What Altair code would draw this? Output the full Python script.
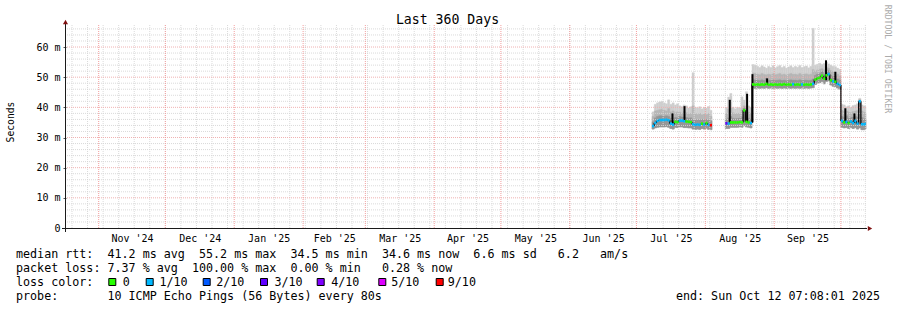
import altair as alt
import pandas as pd

MONO = "DejaVu Sans Mono"

# ---------------- time window / scales ----------------
RANGE_START = "2024-10-17 07:08:01"
RANGE_END = "2025-10-12 07:08:01"
Y_MAX_MS = 67.3

LOSS_LABELS = ["0", "1/10", "2/10", "3/10", "4/10", "5/10", "9/10"]
LOSS_COLORS = ["#26ff00", "#00b8ff", "#0059ff", "#5e00ff", "#7e00ff", "#dd00ff", "#ff0000"]

# ---------------- data (one value per day, ms) ----------------
S1_START = "2025-07-08"
S1_MED = [33.8, 34.8, 35.5, 35.8, 35.8, 35.8, 35.9, 35.7, 34.6, 34.3, 35.2, 35.1, 35.6, 35.6,
          35.4, 35.3, 35.2, 35.1, 34.4, 34.2, 34.3, 34.2, 34.6, 34.3, 34.8, 34.2, 34.1]
S1_LOSS = [1, 1, 1, 1, 1, 1, 1, 1, 1, 1, 0, 0, 1, 1, 1, 0, 0, 0, 1, 1, 1, 1, 0, 1, 0, 1, 6]
S1_HI = [38.5, 41.0, 41.5, 41.8, 42.0, 41.5, 41.2, 42.5, 41.0, 41.5, 40.8, 41.2, 40.5, 40.2,
         40.8, 40.5, 39.8, 40.2, 51.5, 40.0, 39.8, 40.2, 39.5, 40.0, 39.8, 40.3, 39.0]
S1_MID = [37.0, 38.8, 39.0, 39.2, 39.4, 39.0, 38.8, 39.6, 38.5, 38.8, 38.2, 38.5, 38.4, 38.0,
          38.6, 38.2, 37.8, 38.0, 40.5, 38.0, 37.6, 38.0, 37.5, 37.8, 37.6, 38.0, 37.0]
S1_DARK = [35.2, 36.5, 37.0, 37.2, 37.2, 37.0, 37.2, 37.0, 36.4, 36.2, 36.6, 36.5, 37.0, 36.8,
           36.8, 36.6, 36.4, 36.5, 36.0, 35.8, 35.9, 35.8, 36.0, 35.8, 36.0, 35.8, 35.5]
S1_LO = [32.8, 33.2, 33.4, 33.5, 33.5, 33.5, 33.6, 33.4, 33.0, 32.8, 33.4, 33.3, 33.5, 33.5,
         33.3, 33.3, 33.2, 33.2, 32.8, 32.7, 32.8, 32.7, 33.0, 32.8, 33.1, 32.7, 32.6]

S2_START = "2025-08-10"
S2_MED = [34.7, 34.6, 35.0, 35.0, 35.0, 35.0, 35.1, 35.0, 39.0, 35.2, 35.0, 34.8]
S2_LOSS = [3, 1, 0, 0, 0, 0, 0, 0, 0, 0, 0, 1]
S2_HI = [40.0, 43.4, 44.6, 40.0, 39.5, 40.0, 39.8, 43.5, 42.4, 45.2, 40.5, 40.0]
S2_MID = [38.0, 39.5, 40.0, 38.2, 37.8, 38.0, 38.0, 39.5, 40.5, 40.0, 38.4, 38.0]
S2_DARK = [36.0, 36.5, 37.0, 36.4, 36.2, 36.3, 36.4, 36.8, 39.8, 37.2, 36.4, 36.0]
S2_LO = [33.0, 33.0, 33.4, 33.4, 33.4, 33.4, 33.5, 33.4, 34.0, 33.5, 33.4, 33.2]

S3_START = "2025-08-22"
S3_MED = [47.6, 47.5, 47.6, 47.5, 47.6, 47.5, 47.8, 47.5, 47.6, 47.5,
          47.6, 47.5, 47.6, 47.5, 47.7, 47.5, 47.6, 47.5, 47.7, 47.5,
          47.6, 47.5, 47.6, 47.5, 47.6, 47.5, 47.6, 47.8, 49.2, 49.6,
          49.8, 50.5, 49.5, 50.6, 51.0, 49.0, 48.6, 48.5, 47.8, 47.4]
S3_LOSS = [0, 0, 0, 0, 0, 0, 0, 0, 0, 0, 0, 0, 0, 0, 0, 0, 0, 0, 1, 0,
           0, 0, 1, 0, 0, 0, 0, 1, 0, 0, 0, 0, 0, 0, 1, 0, 1, 0, 1, 1]
S3_HI = [54.2, 54.0, 53.6, 53.2, 53.8, 53.4, 53.0, 53.6, 53.2, 53.8,
         53.1, 53.5, 53.9, 53.2, 53.6, 53.0, 53.4, 53.8, 53.2, 53.6,
         53.3, 53.9, 53.2, 53.5, 53.7, 53.1, 53.6, 66.2, 54.0, 54.3,
         54.6, 54.2, 54.5, 55.0, 54.4, 54.0, 53.6, 53.5, 53.0, 52.6]
S3_MID = [51.4, 51.2, 51.0, 50.8, 51.2, 50.9, 50.8, 51.0, 50.8, 51.2,
          50.8, 51.0, 51.2, 50.8, 51.0, 50.7, 51.0, 51.2, 50.9, 51.0,
          50.8, 51.2, 50.8, 51.0, 51.1, 50.8, 51.0, 52.5, 52.0, 52.4,
          52.6, 52.8, 52.4, 53.2, 53.0, 52.2, 51.8, 51.6, 51.0, 50.4]
S3_DARK = [49.2, 49.0, 49.0, 48.9, 49.1, 48.9, 49.6, 49.0, 48.9, 49.1,
           48.9, 49.0, 49.1, 48.9, 49.0, 48.8, 49.0, 49.1, 49.0, 49.0,
           48.9, 49.1, 48.9, 49.0, 49.0, 48.9, 49.0, 49.4, 50.6, 51.0,
           51.2, 51.8, 51.0, 52.4, 52.2, 50.6, 50.2, 50.4, 49.4, 49.0]
S3_LO = [46.4, 46.3, 46.4, 46.3, 46.4, 46.3, 46.5, 46.3, 46.4, 46.3,
         46.4, 46.3, 46.4, 46.3, 46.4, 46.3, 46.4, 46.3, 46.4, 46.3,
         46.4, 46.3, 46.4, 46.3, 46.4, 46.3, 46.4, 46.5, 47.6, 48.0,
         48.2, 48.6, 47.8, 48.6, 48.8, 47.4, 47.0, 46.9, 46.4, 46.0]

S4_START = "2025-10-01"
S4_MED = [35.5, 35.0, 35.2, 34.8, 35.3, 34.8, 35.5, 34.6, 42.0, 34.4, 34.4, 34.6]
S4_LOSS = [1, 0, 1, 0, 1, 1, 1, 1, 1, 1, 1, 1]
S4_HI = [41.0, 40.8, 40.2, 40.5, 40.0, 40.6, 40.8, 41.2, 43.0, 40.8, 40.5, 40.2]
S4_MID = [39.0, 38.6, 38.8, 38.5, 38.2, 38.6, 38.8, 39.0, 42.6, 38.8, 38.4, 38.0]
S4_DARK = [37.0, 36.6, 37.2, 36.4, 36.6, 36.8, 37.0, 36.8, 42.2, 36.6, 36.2, 36.0]
S4_LO = [33.4, 33.2, 33.3, 33.0, 33.3, 33.0, 33.3, 32.8, 33.2, 32.6, 32.6, 32.8]

# dense single-sample smoke columns (drawn black)
SPIKE_T = ["2025-07-17 05:00", "2025-07-22 15:00", "2025-08-12 00:00", "2025-08-19 19:00",
           "2025-08-22 05:00", "2025-08-28 19:00", "2025-09-24 07:00", "2025-09-28 12:00",
           "2025-10-03 00:00", "2025-10-07 02:00"]
SPIKE_LO = [34.3, 35.3, 35.0, 35.2, 35.0, 47.5, 49.0, 48.0, 35.0, 35.0]
SPIKE_HI = [38.0, 40.4, 42.5, 44.5, 51.0, 49.6, 55.6, 51.8, 39.7, 38.0]

# grid / tick definitions
WEEK_LINES = pd.date_range("2024-10-20", "2025-10-12", freq="7D")
MONTH_LINES = pd.date_range("2024-11-01", "2025-10-01", freq="MS")
Y_MINOR = [v for v in range(2, 67, 2) if v % 10 != 0]
Y_MAJOR = [10, 20, 30, 40, 50, 60]
Y_LABELS = [0, 10, 20, 30, 40, 50, 60]

SEGMENTS = [
    (S1_START, S1_MED, S1_LOSS, S1_HI, S1_MID, S1_DARK, S1_LO),
    (S2_START, S2_MED, S2_LOSS, S2_HI, S2_MID, S2_DARK, S2_LO),
    (S3_START, S3_MED, S3_LOSS, S3_HI, S3_MID, S3_DARK, S3_LO),
    (S4_START, S4_MED, S4_LOSS, S4_HI, S4_MID, S4_DARK, S4_LO),
]

FMT = "%Y-%m-%dT%H:%M:%S"


def dt(ts):
    ts = pd.Timestamp(ts)
    return alt.DateTime(year=ts.year, month=ts.month, date=ts.day,
                        hours=ts.hour, minutes=ts.minute, seconds=ts.second)


end_ts = pd.Timestamp(RANGE_END)
rows = []
for start, med, loss, hi, mid, dark, lo in SEGMENTS:
    days = pd.date_range(start, periods=len(med), freq="D")
    for k, d in enumerate(days):
        e = min(d + pd.Timedelta(days=1), end_ts)
        rows.append(dict(t=d, t2=e, med=med[k], loss=LOSS_LABELS[loss[k]],
                         hi=hi[k], mid=mid[k], dark=dark[k], lo=lo[k]))
df = pd.DataFrame(rows).sort_values("t").reset_index(drop=True)
df["prev"] = df["med"].shift()
contig = df["t2"].shift() == df["t"]
conn = df[contig].copy()
for frame in (df, conn):
    frame["t"] = frame["t"].dt.strftime(FMT)
    frame["t2"] = frame["t2"].dt.strftime(FMT)

spikes = pd.DataFrame({"t": [pd.Timestamp(s).strftime(FMT) for s in SPIKE_T],
                       "lo": SPIKE_LO, "hi": SPIKE_HI})
weeks = pd.DataFrame({"t": WEEK_LINES.strftime(FMT)})
months = pd.DataFrame({"t": MONTH_LINES.strftime(FMT)})

# month labels centred between month boundaries
bounds = list(MONTH_LINES)
mid_months = [bounds[i] + (bounds[i + 1] - bounds[i]) / 2 for i in range(len(bounds) - 1)]

xs = alt.Scale(domain=[dt(RANGE_START), dt(RANGE_END)])
ys = alt.Scale(domain=[0, Y_MAX_MS], nice=False)

xaxis = alt.Axis(values=[dt(m) for m in mid_months], format="%b '%y", title=None,
                 grid=False, domain=False, ticks=False, labelFont=MONO, labelFontSize=10,
                 labelColor="#000000", labelBaseline="alphabetic", labelPadding=13,
                 labelFlush=False, labelOverlap=False, labelAlign="center")
yaxis = alt.Axis(values=Y_LABELS, labelExpr="datum.value == 0 ? '0' : datum.value + ' m'",
                 title=None, grid=False, domain=False, ticks=True, tickSize=3,
                 tickColor="#555555", labelFont=MONO, labelFontSize=10, labelColor="#000000",
                 labelPadding=3)


def X(f):
    return alt.X(f, type="temporal", scale=xs, axis=xaxis)


def Y(f):
    return alt.Y(f, type="quantitative", scale=ys, axis=yaxis)


base = alt.Chart(df)
layers = []

# smoke
for top, col in (("hi", "#cecece"), ("mid", "#b6b6b6"), ("dark", "#959595")):
    layers.append(base.mark_rect(color=col, stroke=col, strokeWidth=0.4).encode(
        x=X("t"), x2=alt.X2("t2"), y=Y(top), y2=alt.Y2("lo")))

# grid
MINOR = "#d6d6d6"
MAJOR_H = "#eeaaaa"
MAJOR_V = "#f29a9a"
layers.append(alt.Chart(pd.DataFrame({"v": Y_MINOR})).mark_rule(
    stroke=MINOR, strokeDash=[1, 1], strokeWidth=1, opacity=0.9).encode(y=Y("v")))
layers.append(alt.Chart(weeks).mark_rule(
    stroke=MINOR, strokeDash=[1, 1], strokeWidth=1, opacity=0.9).encode(x=X("t")))
layers.append(alt.Chart(pd.DataFrame({"v": Y_MAJOR})).mark_rule(
    stroke=MAJOR_H, strokeDash=[1, 1], strokeWidth=1, opacity=0.9).encode(y=Y("v")))
layers.append(alt.Chart(months).mark_rule(
    stroke=MAJOR_V, strokeDash=[1, 1], strokeWidth=1, opacity=0.95).encode(x=X("t")))

# dense spikes, connectors and the loss-coloured median
layers.append(alt.Chart(spikes).mark_rule(color="#000000", strokeWidth=2).encode(
    x=X("t"), y=Y("lo"), y2=alt.Y2("hi")))
layers.append(alt.Chart(conn).mark_rule(color="#000000", strokeWidth=1.2).encode(
    x=X("t"), y=Y("prev"), y2=alt.Y2("med")))
layers.append(base.mark_rule(strokeWidth=2.6).encode(
    x=X("t"), x2=alt.X2("t2"), y=Y("med"),
    color=alt.Color("loss:N", scale=alt.Scale(domain=LOSS_LABELS, range=LOSS_COLORS),
                    legend=None)))

one = pd.DataFrame({"k": [0]})
AXIS_COL = "#1a1a1a"
ARROW_COL = "#7f1010"

# axis lines and arrows
layers.append(alt.Chart(one).mark_rule(color=AXIS_COL, strokeWidth=1).encode(
    x=alt.value(-4), x2=alt.value(801), y=alt.value(203.5)))
layers.append(alt.Chart(one).mark_rule(color=AXIS_COL, strokeWidth=1).encode(
    x=alt.value(-0.5), y=alt.value(-2), y2=alt.value(207)))
layers.append(alt.Chart(one).mark_point(shape="triangle-right", filled=True, color=ARROW_COL,
                                        size=26, opacity=1).encode(
    x=alt.value(804), y=alt.value(203.5)))
layers.append(alt.Chart(one).mark_point(shape="triangle-up", filled=True, color=ARROW_COL,
                                        size=26, opacity=1).encode(
    x=alt.value(-0.5), y=alt.value(-3)))


def txt(s, x, y, size, align="left", baseline="alphabetic", angle=0, color="#000000"):
    return alt.Chart(one).mark_text(text=s.replace(" ", "\u00a0"), font=MONO, fontSize=size,
                                    align=align, baseline=baseline, angle=angle,
                                    color=color).encode(x=alt.value(x), y=alt.value(y))


# titles
layers.append(txt("Last 360 Days", 381.5, -0.8, 13.2, align="center"))
layers.append(txt("Seconds", -55, 97, 9.7, align="center", baseline="middle", angle=270))
layers.append(txt("RRDTOOL / TOBI OETIKER", 820.5, 34, 8.2, align="center",
                  baseline="middle", angle=90, color="#ababab"))

# footer legend
ROW1 = "median rtt:  41.2 ms avg  55.2 ms max  34.5 ms min  34.6 ms now  6.6 ms sd   6.2   am/s"
ROW2 = "packet loss: 7.37 % avg  100.00 % max  0.00 % min   0.28 % now"
ROW3 = "loss color:"
ROW4 = "probe:       10 ICMP Echo Pings (56 Bytes) every 80s"
END_TXT = "end: Sun Oct 12 07:08:01 2025"
FS = 11.7
layers.append(txt(ROW1, -50, 233, FS))
layers.append(txt(ROW2, -50, 247, FS))
layers.append(txt(ROW3, -50, 261, FS))
layers.append(txt(ROW4, -50, 275, FS))
layers.append(txt(END_TXT, 814, 275, FS, align="right"))

SQ_LEFT = [108.3, 145.7, 202.7, 260.0, 316.7, 378.3, 435.7]
LAB_LEFT = [123.3, 160.0, 216.7, 275.0, 331.7, 391.7, 448.3]
for lab, col, sx, lx in zip(LOSS_LABELS, LOSS_COLORS, SQ_LEFT, LAB_LEFT):
    layers.append(alt.Chart(one).mark_rect(fill=col, stroke="#000000", strokeWidth=1).encode(
        x=alt.value(sx - 66 + 0.5), x2=alt.value(sx - 66 + 7.5),
        y=alt.value(253.5), y2=alt.value(260.5)))
    layers.append(txt(lab, lx - 66.5, 261, FS))

chart = alt.layer(*layers).properties(
    width=800, height=203,
    padding={"left": 66, "top": 25, "right": 31, "bottom": 82},
    autosize=alt.AutoSizeParams(type="none"),
    background="#ffffff",
).configure_view(strokeWidth=0)

chart.save("out.html", embed_options={"renderer": "svg", "actions": False})
